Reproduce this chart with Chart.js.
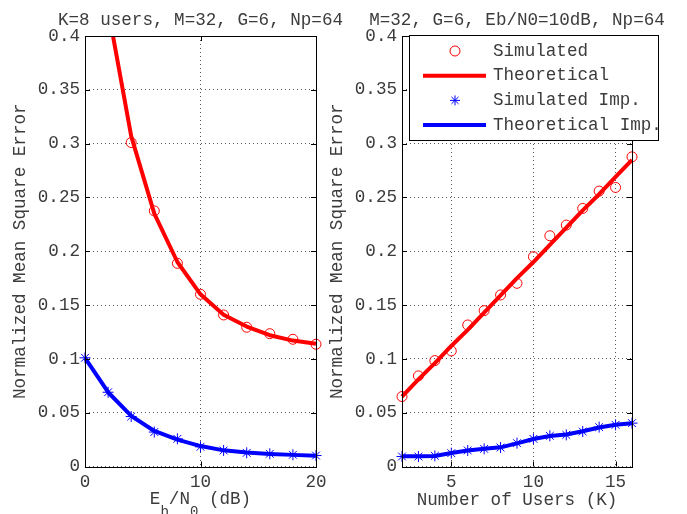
<!DOCTYPE html>
<html lang="en">
<head>
<meta charset="UTF-8">
<title>Normalized Mean Square Error</title>
<style>
  body { margin: 0; background: #fff; }
  #wrap { position: relative; width: 687px; height: 514px; }
  #wrap canvas { position: absolute; left: 0; top: 0; }
</style>
<script src="https://cdn.jsdelivr.net/npm/chart.js"></script>
</head>
<body>
<div id="wrap">
  <canvas id="left" width="687" height="514"></canvas>
  <canvas id="right" width="687" height="514"></canvas>
</div>
<script>
// left panel: NMSE vs Eb/N0 (K=8)
const ebnoSim = [4, 6, 8, 10, 12, 14, 16, 18, 20];
const nmseSim = [0.301, 0.2375, 0.1888, 0.160, 0.1408, 0.1294, 0.1234, 0.1182, 0.1136];
const ebnoTheo = [2, 4, 6, 8, 10, 12, 14, 16, 18, 20];
const nmseTheo = [0.425, 0.307, 0.235, 0.190, 0.160, 0.141, 0.130, 0.122, 0.117, 0.114];
const ebnoImp = [0, 2, 4, 6, 8, 10, 12, 14, 16, 18, 20];
const nmseSimImp = [0.101, 0.069, 0.0464, 0.032, 0.0257, 0.0183, 0.0149, 0.0127, 0.0118, 0.0109, 0.0102];
const nmseTheoImp = [0.101, 0.069, 0.047, 0.033, 0.025, 0.019, 0.015, 0.013, 0.0117, 0.0108, 0.0101];

// right panel: NMSE vs number of users (Eb/N0=10dB)
const users = [2, 3, 4, 5, 6, 7, 8, 9, 10, 11, 12, 13, 14, 15, 16];
const nmseSimK = [0.065, 0.0842, 0.0984, 0.1074, 0.1315, 0.1448, 0.1594, 0.1702, 0.1949, 0.2144, 0.2243, 0.2398, 0.2559, 0.2593, 0.2877];
const nmseTheoK = [0.065, 0.081, 0.096, 0.112, 0.127, 0.143, 0.159, 0.175, 0.190, 0.206, 0.222, 0.238, 0.253, 0.269, 0.285];
const nmseSimImpK = [0.0093, 0.0093, 0.0099, 0.0124, 0.0149, 0.0164, 0.0176, 0.0217, 0.0257, 0.0285, 0.0294, 0.0325, 0.0366, 0.0387, 0.0403];
const nmseTheoImpK = [0.0095, 0.0095, 0.0097, 0.0125, 0.0148, 0.0165, 0.0178, 0.0215, 0.0255, 0.0283, 0.0297, 0.0327, 0.0362, 0.0388, 0.0402];

// tick labels
const yTicks = [0, 0.05, 0.1, 0.15, 0.2, 0.25, 0.3, 0.35, 0.4];
const ebnoTicks = [0, 10, 20];
const userTicks = [5, 10, 15];

const legendLabels = ['Simulated', 'Theoretical', 'Simulated Imp.', 'Theoretical Imp.'];
const titleLeft = 'K=8 users, M=32, G=6, Np=64';
const titleRight = 'M=32, G=6, Eb/N0=10dB, Np=64';
const yTitle = 'Normalized Mean Square Error';

const FAMILY = "'Liberation Mono', 'DejaVu Sans Mono', monospace";
const FS = 17.6;
const TXT = '#3c3c3c';
const RED = '#ff0000';
const BLUE = '#0000ff';

function pts(xs, ys) {
  return xs.map((x, i) => ({ x: x, y: ys[i] }));
}

function simSet(label, xs, ys, color, style) {
  return {
    label: label, data: pts(xs, ys), showLine: false,
    pointStyle: style, pointRadius: style === 'star' ? 5.5 : 5, pointBorderWidth: 1,
    pointBorderColor: color, pointBackgroundColor: 'rgba(0,0,0,0)',
    borderColor: color, clip: false
  };
}

function theoSet(label, xs, ys, color) {
  return {
    label: label, data: pts(xs, ys), borderColor: color, borderWidth: 4,
    pointRadius: 0, tension: 0, borderJoinStyle: 'round',
    clip: { left: 2, right: 2, top: 0, bottom: 2 }
  };
}

// box around the axes with inward tick marks, MATLAB style
const framePlugin = {
  id: 'frame',
  afterDatasetsDraw(chart) {
    const { ctx, chartArea: a, scales } = chart;
    ctx.save();
    ctx.strokeStyle = '#000';
    ctx.lineWidth = 1;
    ctx.beginPath();
    scales.y.ticks.forEach(t => {
      const y = Math.round(scales.y.getPixelForValue(t.value)) + 0.5;
      ctx.moveTo(a.left, y); ctx.lineTo(a.left + 5, y);
      ctx.moveTo(a.right, y); ctx.lineTo(a.right - 5, y);
    });
    scales.x.ticks.forEach(t => {
      const x = Math.round(scales.x.getPixelForValue(t.value)) + 0.5;
      ctx.moveTo(x, a.bottom); ctx.lineTo(x, a.bottom - 5);
      ctx.moveTo(x, a.top); ctx.lineTo(x, a.top + 5);
    });
    ctx.stroke();
    ctx.strokeRect(Math.round(a.left) + 0.5, Math.round(a.top) + 0.5,
      Math.round(a.right - a.left), Math.round(a.bottom - a.top));
    ctx.restore();
  }
};

function titlePlugin(text) {
  return {
    id: 'topTitle',
    afterDraw(chart) {
      const { ctx, chartArea: a } = chart;
      ctx.save();
      ctx.font = FS + 'px ' + FAMILY;
      ctx.fillStyle = TXT;
      ctx.textAlign = 'center';
      ctx.textBaseline = 'alphabetic';
      ctx.fillText(text, (a.left + a.right) / 2, 25);
      ctx.restore();
    }
  };
}

// E_b/N_0 (dB) with subscripts
const ebnoLabel = {
  id: 'ebnoLabel',
  afterDraw(chart) {
    const { ctx, chartArea: a } = chart;
    const parts = [['E', 0], ['b', 1], ['/N', 0], ['0', 1], [' (dB)', 0]];
    const big = FS + 'px ' + FAMILY, small = '14px ' + FAMILY;
    ctx.save();
    ctx.fillStyle = TXT;
    ctx.textBaseline = 'middle';
    ctx.textAlign = 'left';
    let total = 0;
    parts.forEach(p => { ctx.font = p[1] ? small : big; total += ctx.measureText(p[0]).width; });
    let x = (a.left + a.right) / 2 - total / 2;
    parts.forEach(p => {
      ctx.font = p[1] ? small : big;
      ctx.fillText(p[0], x, p[1] ? 512 : 499.5);
      x += ctx.measureText(p[0]).width;
    });
    ctx.restore();
  }
};

const legendPlugin = {
  id: 'legendBox',
  afterDraw(chart) {
    const { ctx, chartArea: a } = chart;
    const x0 = Math.round(a.left) + 7, y0 = Math.round(a.top) - 1;
    ctx.save();
    ctx.fillStyle = '#fff';
    ctx.fillRect(x0, y0, 249, 105);
    ctx.strokeStyle = '#000';
    ctx.lineWidth = 1;
    ctx.strokeRect(x0 + 0.5, y0 + 0.5, 249, 105);
    ctx.font = FS + 'px ' + FAMILY;
    ctx.textBaseline = 'middle';
    ctx.textAlign = 'left';
    chart.data.datasets.forEach((ds, i) => {
      const y = y0 + 16 + i * 24.7;
      const cx = x0 + 46;
      ctx.strokeStyle = ds.borderColor;
      if (ds.showLine === false) {
        ctx.lineWidth = 1;
        ctx.beginPath();
        if (ds.pointStyle === 'circle') {
          ctx.arc(cx, y, 5, 0, Math.PI * 2);
        } else {
          for (let k = 0; k < 4; k++) {
            const ang = k * Math.PI / 4;
            ctx.moveTo(cx - 5 * Math.cos(ang), y - 5 * Math.sin(ang));
            ctx.lineTo(cx + 5 * Math.cos(ang), y + 5 * Math.sin(ang));
          }
        }
        ctx.stroke();
      } else {
        ctx.lineWidth = 4;
        ctx.beginPath();
        ctx.moveTo(x0 + 14, y); ctx.lineTo(x0 + 77, y);
        ctx.stroke();
      }
      ctx.fillStyle = TXT;
      ctx.fillText(ds.label, x0 + 84, y);
    });
    ctx.restore();
  }
};

function makeChart(id, cfg) {
  const font = { family: FAMILY, size: FS };
  const grid = { color: '#555', lineWidth: 1, drawTicks: false, borderDash: [1, 3] };
  const border = { display: false, dash: [1, 3] };
  return new Chart(document.getElementById(id), {
    type: 'line',
    data: { datasets: cfg.datasets },
    options: {
      responsive: false,
      animation: false,
      events: [],
      layout: { padding: { left: cfg.padLeft, right: cfg.padRight, top: 36, bottom: 0 } },
      plugins: { legend: { display: false }, tooltip: { enabled: false } },
      scales: {
        x: {
          type: 'linear', min: cfg.xMin, max: cfg.xMax,
          afterBuildTicks: s => { s.ticks = cfg.xTicks.map(v => ({ value: v })); },
          afterFit: s => { s.height = 47.5; },
          grid: grid, border: border,
          ticks: { font: font, color: TXT, padding: 5, maxRotation: 0, autoSkip: false,
                   callback: v => String(v) },
          title: { display: !!cfg.xTitle, text: cfg.xTitle, font: font, color: TXT,
                   padding: { top: 0, bottom: 3.5 } }
        },
        y: {
          type: 'linear', min: 0, max: 0.4,
          afterBuildTicks: s => { s.ticks = yTicks.map(v => ({ value: v })); },
          afterFit: s => { s.width = 85; },
          grid: grid, border: border,
          ticks: { font: font, color: TXT, padding: 5, autoSkip: false,
                   callback: v => String(v) },
          title: { display: true, text: yTitle, font: font, color: TXT,
                   padding: { top: 9.5, bottom: 0 } }
        }
      }
    },
    plugins: [framePlugin, titlePlugin(cfg.title)].concat(cfg.extra)
  });
}

makeChart('left', {
  padLeft: 0, padRight: 371, xMin: 0, xMax: 20, xTicks: ebnoTicks,
  title: titleLeft, xTitle: '',
  datasets: [
    simSet(legendLabels[0], ebnoSim, nmseSim, RED, 'circle'),
    theoSet(legendLabels[1], ebnoTheo, nmseTheo, RED),
    simSet(legendLabels[2], ebnoImp, nmseSimImp, BLUE, 'star'),
    theoSet(legendLabels[3], ebnoImp, nmseTheoImp, BLUE)
  ],
  extra: [ebnoLabel]
});

makeChart('right', {
  padLeft: 317, padRight: 55, xMin: 2, xMax: 16, xTicks: userTicks,
  title: titleRight, xTitle: 'Number of Users (K)',
  datasets: [
    simSet(legendLabels[0], users, nmseSimK, RED, 'circle'),
    theoSet(legendLabels[1], users, nmseTheoK, RED),
    simSet(legendLabels[2], users, nmseSimImpK, BLUE, 'star'),
    theoSet(legendLabels[3], users, nmseTheoImpK, BLUE)
  ],
  extra: [legendPlugin]
});
</script>
</body>
</html>
